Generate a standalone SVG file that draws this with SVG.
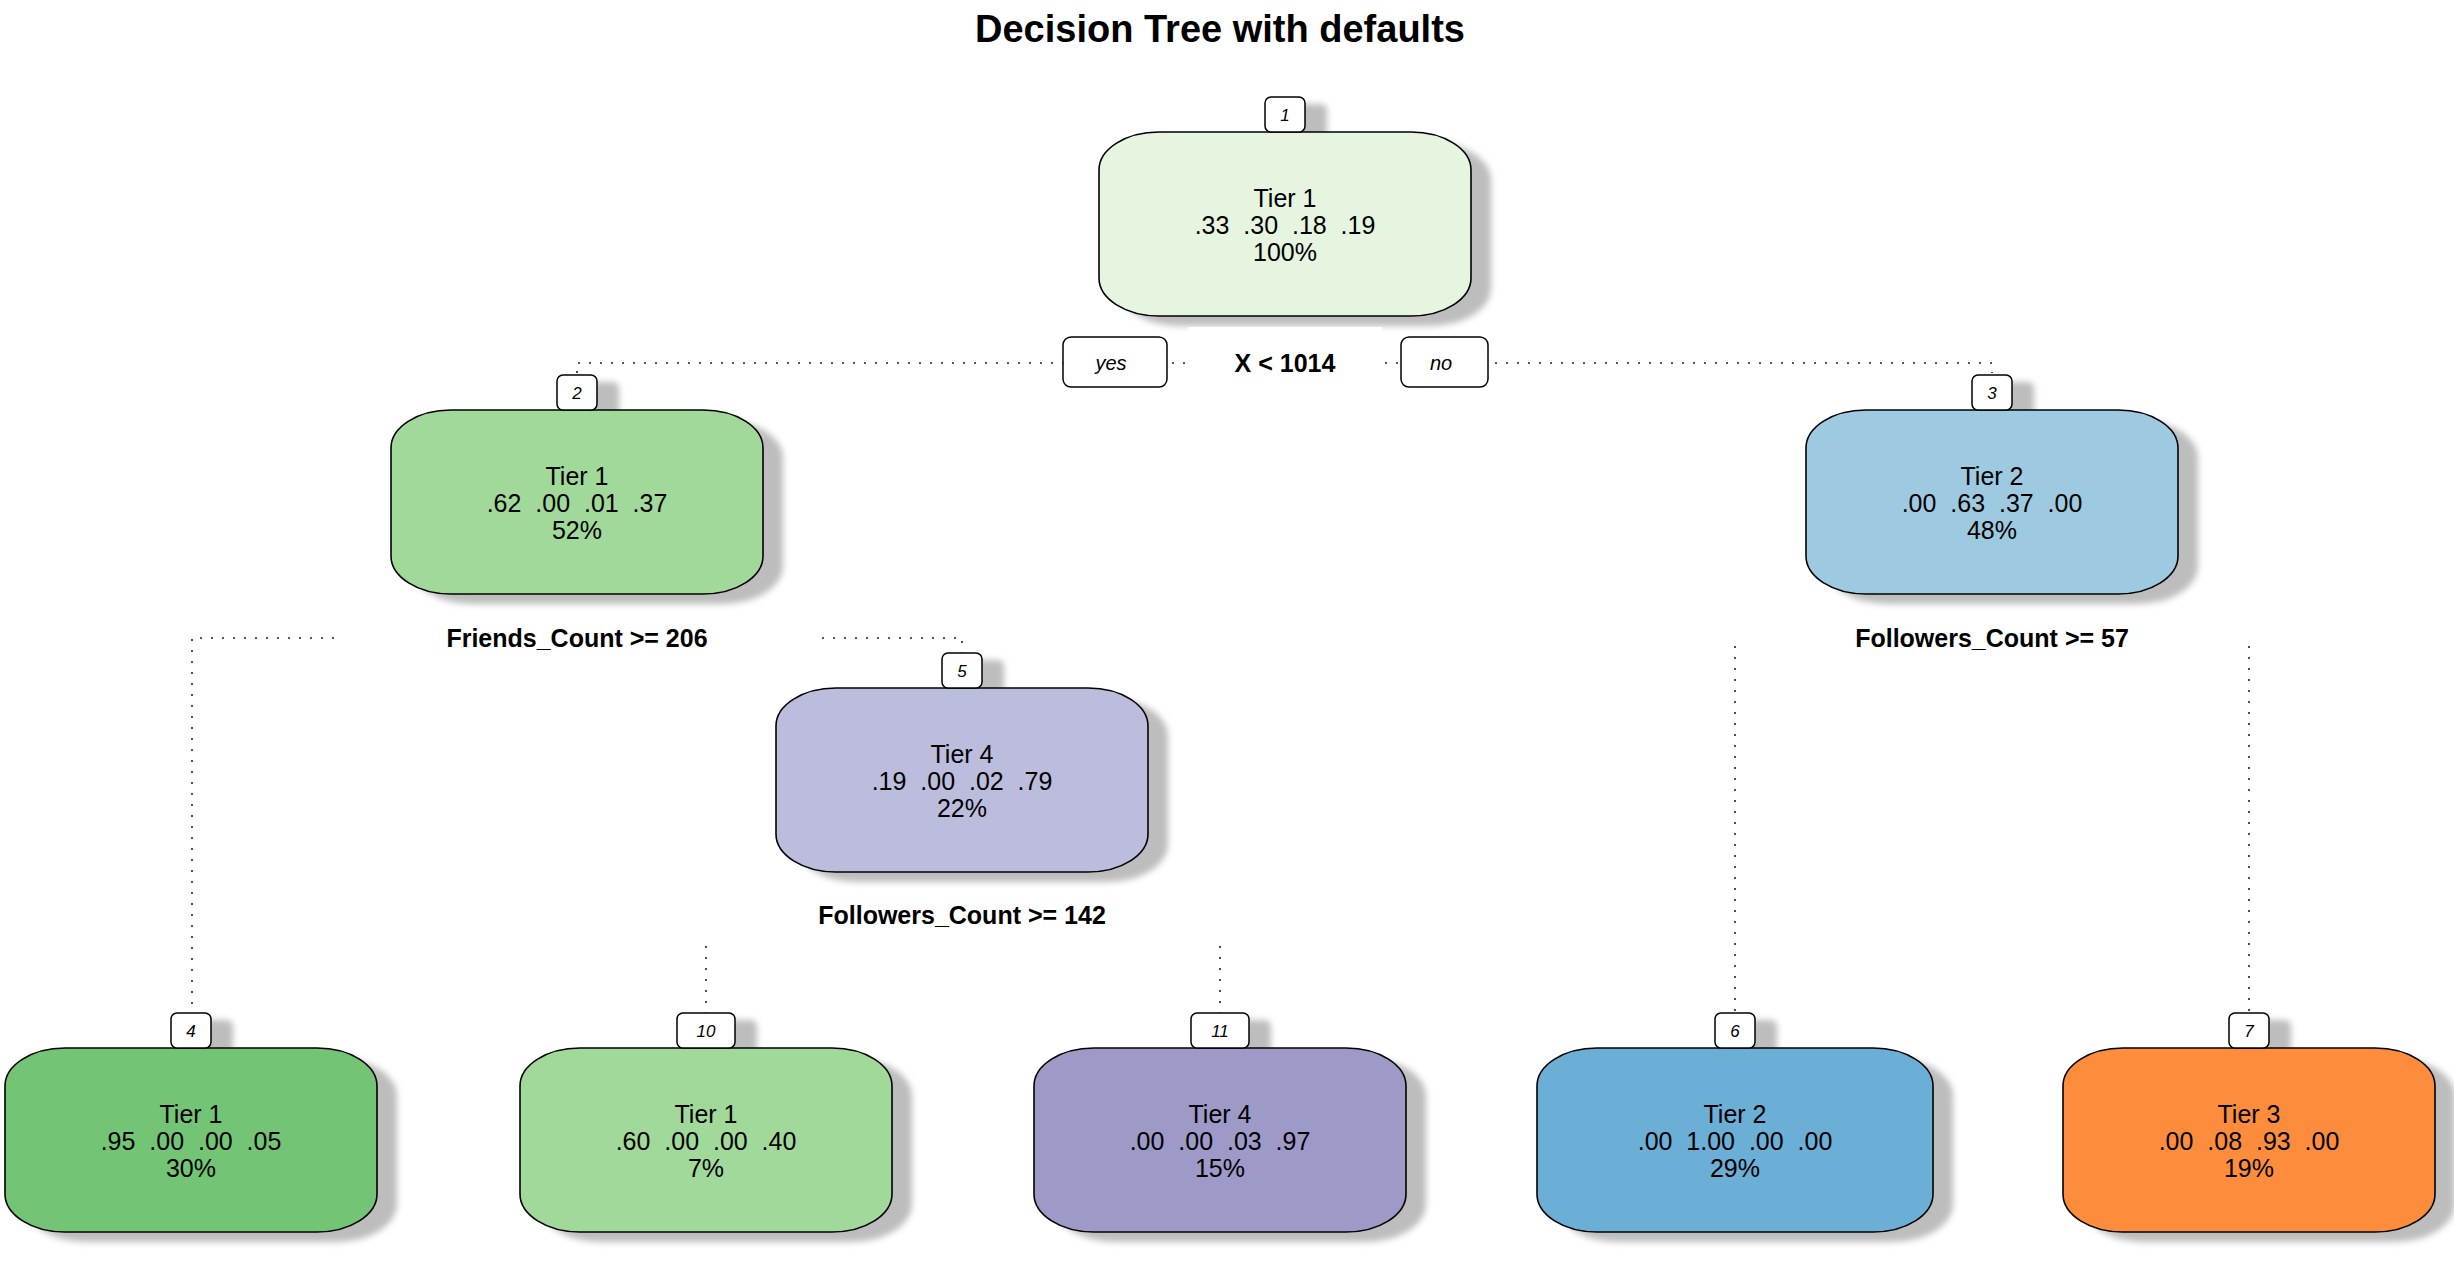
<svg xmlns="http://www.w3.org/2000/svg" width="2454" height="1278" viewBox="0 0 2454 1278">
<defs>
<filter id="blur" x="-20%" y="-20%" width="140%" height="140%"><feGaussianBlur stdDeviation="3"/></filter>
<style>
text{font-family:"Liberation Sans",Arial,sans-serif;fill:#000;white-space:pre}
.title{font-size:38px;font-weight:bold;text-anchor:middle}
.nt{font-size:25px;text-anchor:middle}
.num{font-size:17px;font-style:italic;text-anchor:middle}
.split{font-size:25px;font-weight:bold;text-anchor:middle}
.yn{font-size:20px;font-style:italic;text-anchor:middle}
.box{stroke:#000;stroke-width:1.6}
.sh{fill:#bdbdbd;filter:url(#blur)}
.lbl{fill:#fff;stroke:#000;stroke-width:1.5}
.con{fill:none;stroke:#222;stroke-width:1.6;stroke-dasharray:2 9}
</style>
</defs>
<rect width="2454" height="1278" fill="#fff"/>
<text class="title" x="1220" y="42">Decision Tree with defaults</text>

<g id="node1">
<rect class="sh" x="1119" y="142" width="372" height="184" rx="60" ry="38"/>
<rect class="sh" x="1287" y="104" width="40" height="35" rx="6"/>
<rect class="box" x="1099" y="132" width="372" height="184" rx="60" ry="38" fill="#e5f5e0"/>
<rect class="lbl" x="1265" y="97" width="40" height="35" rx="6"/>
<text class="num" x="1285" y="120.5">1</text>
<text class="nt" x="1285" y="207">Tier 1</text>
<text class="nt" x="1285" y="234">.33  .30  .18  .19</text>
<text class="nt" x="1285" y="261">100%</text>
<rect x="1188" y="327" width="194" height="72" fill="#fff"/>
<text class="split" x="1285" y="372">X &lt; 1014</text>
</g>

<g id="node2">
<rect class="sh" x="411" y="420" width="372" height="184" rx="60" ry="38"/>
<rect class="sh" x="579" y="382" width="40" height="35" rx="6"/>
<rect class="box" x="391" y="410" width="372" height="184" rx="60" ry="38" fill="#a1d99b"/>
<rect class="lbl" x="557" y="375" width="40" height="35" rx="6"/>
<text class="num" x="577" y="398.5">2</text>
<text class="nt" x="577" y="485">Tier 1</text>
<text class="nt" x="577" y="512">.62  .00  .01  .37</text>
<text class="nt" x="577" y="539">52%</text>
<text class="split" x="577" y="647">Friends_Count &gt;= 206</text>
</g>

<g id="node3">
<rect class="sh" x="1826" y="420" width="372" height="184" rx="60" ry="38"/>
<rect class="sh" x="1994" y="382" width="40" height="35" rx="6"/>
<rect class="box" x="1806" y="410" width="372" height="184" rx="60" ry="38" fill="#9ecae1"/>
<rect class="lbl" x="1972" y="375" width="40" height="35" rx="6"/>
<text class="num" x="1992" y="398.5">3</text>
<text class="nt" x="1992" y="485">Tier 2</text>
<text class="nt" x="1992" y="512">.00  .63  .37  .00</text>
<text class="nt" x="1992" y="539">48%</text>
<text class="split" x="1992" y="647">Followers_Count &gt;= 57</text>
</g>

<g id="node5">
<rect class="sh" x="796" y="698" width="372" height="184" rx="60" ry="38"/>
<rect class="sh" x="964" y="660" width="40" height="35" rx="6"/>
<rect class="box" x="776" y="688" width="372" height="184" rx="60" ry="38" fill="#bcbddc"/>
<rect class="lbl" x="942" y="653" width="40" height="35" rx="6"/>
<text class="num" x="962" y="676.5">5</text>
<text class="nt" x="962" y="763">Tier 4</text>
<text class="nt" x="962" y="790">.19  .00  .02  .79</text>
<text class="nt" x="962" y="817">22%</text>
<text class="split" x="962" y="924">Followers_Count &gt;= 142</text>
</g>

<g id="node4">
<rect class="sh" x="25" y="1058" width="372" height="184" rx="60" ry="38"/>
<rect class="sh" x="193" y="1020" width="40" height="35" rx="6"/>
<rect class="box" x="5" y="1048" width="372" height="184" rx="60" ry="38" fill="#74c476"/>
<rect class="lbl" x="171" y="1013" width="40" height="35" rx="6"/>
<text class="num" x="191" y="1036.5">4</text>
<text class="nt" x="191" y="1123">Tier 1</text>
<text class="nt" x="191" y="1150">.95  .00  .00  .05</text>
<text class="nt" x="191" y="1177">30%</text>
</g>

<g id="node10">
<rect class="sh" x="540" y="1058" width="372" height="184" rx="60" ry="38"/>
<rect class="sh" x="699" y="1020" width="58" height="35" rx="6"/>
<rect class="box" x="520" y="1048" width="372" height="184" rx="60" ry="38" fill="#a1d99b"/>
<rect class="lbl" x="677" y="1013" width="58" height="35" rx="6"/>
<text class="num" x="706" y="1036.5">10</text>
<text class="nt" x="706" y="1123">Tier 1</text>
<text class="nt" x="706" y="1150">.60  .00  .00  .40</text>
<text class="nt" x="706" y="1177">7%</text>
</g>

<g id="node11">
<rect class="sh" x="1054" y="1058" width="372" height="184" rx="60" ry="38"/>
<rect class="sh" x="1213" y="1020" width="58" height="35" rx="6"/>
<rect class="box" x="1034" y="1048" width="372" height="184" rx="60" ry="38" fill="#9e9ac8"/>
<rect class="lbl" x="1191" y="1013" width="58" height="35" rx="6"/>
<text class="num" x="1220" y="1036.5">11</text>
<text class="nt" x="1220" y="1123">Tier 4</text>
<text class="nt" x="1220" y="1150">.00  .00  .03  .97</text>
<text class="nt" x="1220" y="1177">15%</text>
</g>

<g id="node6">
<rect class="sh" x="1557" y="1058" width="396" height="184" rx="60" ry="38"/>
<rect class="sh" x="1737" y="1020" width="40" height="35" rx="6"/>
<rect class="box" x="1537" y="1048" width="396" height="184" rx="60" ry="38" fill="#6baed6"/>
<rect class="lbl" x="1715" y="1013" width="40" height="35" rx="6"/>
<text class="num" x="1735" y="1036.5">6</text>
<text class="nt" x="1735" y="1123">Tier 2</text>
<text class="nt" x="1735" y="1150">.00  1.00  .00  .00</text>
<text class="nt" x="1735" y="1177">29%</text>
</g>

<g id="node7">
<rect class="sh" x="2083" y="1058" width="372" height="184" rx="60" ry="38"/>
<rect class="sh" x="2251" y="1020" width="40" height="35" rx="6"/>
<rect class="box" x="2063" y="1048" width="372" height="184" rx="60" ry="38" fill="#fd8d3c"/>
<rect class="lbl" x="2229" y="1013" width="40" height="35" rx="6"/>
<text class="num" x="2249" y="1036.5">7</text>
<text class="nt" x="2249" y="1123">Tier 3</text>
<text class="nt" x="2249" y="1150">.00  .08  .93  .00</text>
<text class="nt" x="2249" y="1177">19%</text>
</g>

<g id="connectors">
<path class="con" d="M577,373 V363 H1185"/>
<path class="con" d="M1385,363 H1992 V373"/>
<path class="con" d="M334,638 H192 V1013"/>
<path class="con" d="M822,638 H962 V653"/>
<path class="con" d="M1735,646 V1013"/>
<path class="con" d="M2249,646 V1013"/>
<path class="con" d="M706,946 V1013"/>
<path class="con" d="M1220,946 V1013"/>
<rect class="lbl" x="1063" y="337" width="104" height="50" rx="8"/>
<text class="yn" x="1111" y="370">yes</text>
<rect class="lbl" x="1401" y="337" width="87" height="50" rx="8"/>
<text class="yn" x="1441" y="370">no</text>
</g>
</svg>
